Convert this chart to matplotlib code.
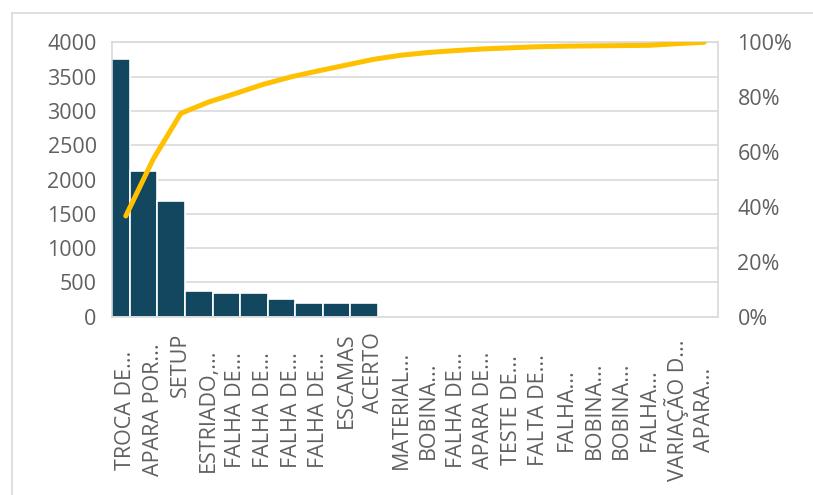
import numpy as np
import matplotlib
matplotlib.use("Agg")
import matplotlib.pyplot as plt
from matplotlib.ticker import PercentFormatter
from matplotlib.transforms import blended_transform_factory
from matplotlib.lines import Line2D

plt.rcParams['font.family'] = ['Open Sans', 'DejaVu Sans']

# Pareto data: occurrences per cause and cumulative share
categories = [
    "TROCA DE...", "APARA POR...", "SETUP", "ESTRIADO,...", "FALHA DE...",
    "FALHA DE...", "FALHA DE...", "FALHA DE...", "ESCAMAS", "ACERTO",
    "MATERIAL...", "BOBINA...", "FALHA DE...", "APARA DE...", "TESTE DE...",
    "FALTA DE...", "FALHA...", "BOBINA...", "BOBINA...", "FALHA...",
    "VARIAÇÃO D...", "APARA...",
]
occurrences = [3750, 2120, 1680, 380, 350, 350, 260, 200, 200, 200,
               0, 0, 0, 0, 0, 0, 0, 0, 0, 0, 0, 0]
cumulative_pct = [36.7, 57.5, 74.1, 78.2, 81.4, 84.7, 87.4, 89.6, 91.7, 93.8,
                  95.3, 96.3, 97.0, 97.6, 98.0, 98.4, 98.6, 98.7, 98.8, 98.9,
                  99.5, 100.0]
left_ticks = [0, 500, 1000, 1500, 2000, 2500, 3000, 3500, 4000]
right_ticks = [0, 20, 40, 60, 80, 100]

BAR_COLOR = "#13465f"
LINE_COLOR = "#ffc000"
GRID_COLOR = "#d9d9d9"
TEXT_COLOR = "#606060"
FS = 15.5

W, H = 813, 495
fig = plt.figure(figsize=(W / 100, H / 100), dpi=100)
fig.patch.set_facecolor("white")

# chart-area border (left and top edges)
fig.add_artist(Line2D([12 / W, 12 / W], [0, 1 - 13 / H], color=GRID_COLOR, lw=1.2))
fig.add_artist(Line2D([12 / W, 1], [1 - 13 / H, 1 - 13 / H], color=GRID_COLOR, lw=1.2))

ax_left, ax_right, ax_top, ax_bottom = 112, 718, 42.3, 316.7
ax = fig.add_axes([ax_left / W, 1 - ax_bottom / H,
                   (ax_right - ax_left) / W, (ax_bottom - ax_top) / H])

x = np.arange(len(categories))
bar_shift = -0.35
ax.bar(x + bar_shift, occurrences, width=1.0, color=BAR_COLOR,
       edgecolor="white", linewidth=1.2, zorder=2)

ax.set_xlim(-0.5, len(categories) - 0.5)
ax.set_ylim(0, 4000)
ax.set_yticks(left_ticks)
ax.yaxis.grid(True, color=GRID_COLOR, lw=1.2, zorder=0)
ax.set_axisbelow(True)
ax.tick_params(axis="y", length=0, pad=11, labelsize=FS, labelcolor=TEXT_COLOR)
ax.set_xticks(x)
ax.set_xticklabels([])
ax.tick_params(axis="x", length=0)
for s in ax.spines.values():
    s.set_color(GRID_COLOR)
    s.set_linewidth(1.2)
    s.set_zorder(3)

# category labels: full names hang from the axis, truncated ones sit centred in the band
trans = blended_transform_factory(ax.transData, ax.transAxes)
for xi, name in zip(x, categories):
    if name.endswith("..."):
        ax.text(xi, -0.34, name, rotation=90, ha="center", va="center",
                fontsize=FS, color=TEXT_COLOR, transform=trans)
    else:
        ax.text(xi, -0.058, name, rotation=90, ha="center", va="top",
                fontsize=FS, color=TEXT_COLOR, transform=trans)

ax2 = ax.twinx()
ax2.set_ylim(0, 100)
ax2.set_yticks(right_ticks)
ax2.yaxis.set_major_formatter(PercentFormatter(decimals=0))
ax2.tick_params(axis="y", length=0, pad=14, labelsize=FS, labelcolor=TEXT_COLOR)
for s in ax2.spines.values():
    s.set_visible(False)
ax2.plot(x, cumulative_pct, color=LINE_COLOR, lw=3.6,
         solid_capstyle="round", solid_joinstyle="round", zorder=4)

fig.savefig("out.png", dpi=100, facecolor="white")
